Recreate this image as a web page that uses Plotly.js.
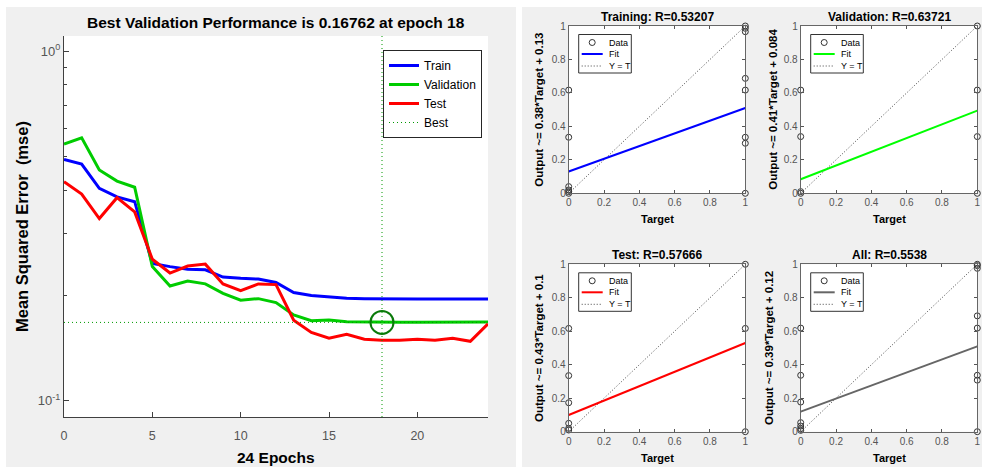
<!DOCTYPE html>
<html><head><meta charset="utf-8">
<script src="https://cdn.plot.ly/plotly-3.0.1.min.js"></script>
<style>html,body{margin:0;padding:0;background:#fff;}#chart{width:982px;height:467px;}</style>
</head><body><div id="chart"></div>
<script>
// ---------- data ----------
const epochs = [0,1,2,3,4,5,6,7,8,9,10,11,12,13,14,15,16,17,18,19,20,21,22,23,24];
const trainPerf = [0.490,0.475,0.405,0.383,0.371,0.247,0.242,0.238,0.237,0.226,0.224,0.223,0.218,0.204,0.200,0.198,0.1965,0.196,0.1956,0.1956,0.1956,0.1956,0.1956,0.1956,0.1956];
const valPerf   = [0.542,0.565,0.457,0.425,0.408,0.242,0.213,0.220,0.216,0.203,0.194,0.196,0.191,0.176,0.1696,0.1704,0.1685,0.1681,0.16762,0.1678,0.1679,0.1680,0.1682,0.1680,0.1681];
const testPerf  = [0.423,0.390,0.332,0.381,0.347,0.254,0.232,0.243,0.246,0.216,0.2065,0.216,0.215,0.170,0.157,0.151,0.155,0.150,0.149,0.149,0.150,0.149,0.151,0.148,0.166];
const bestEpoch = 18;
const bestPerf = 0.16762;
const perfTickVals = [0.1, 1];
const perfTickText = ['10<sup>-1</sup>', '10<sup>0</sup>'];
const perfMinorVals = [0.2,0.3,0.4,0.5,0.6,0.7,0.8,0.9];
const epochTicks = [0,5,10,15,20];

const regNames = ['Training', 'Validation', 'Test', 'All'];
const regR = ['0.53207', '0.63721', '0.57666', '0.5538'];
const regSlope = [0.38, 0.41, 0.43, 0.39];
const regIntercept = [0.13, 0.084, 0.1, 0.12];
const regSlopeText = ['0.38', '0.41', '0.43', '0.39'];
const regInterceptText = ['0.13', '0.084', '0.1', '0.12'];
const trainTarget = [0,0,0,0,0,0, 1,1,1,1,1,1,1,1];
const trainOutput = [0.617,0.335,0.04,0.02,0.01,0, 1,0.986,0.966,0.687,0.617,0.335,0.299,0];
const valTarget = [0,0,0,0, 1,1,1,1];
const valOutput = [0.617,0.339,0.01,0, 1,0.617,0.339,0];
const testTarget = [0,0,0,0,0,0, 1,1,1];
const testOutput = [0.617,0.335,0.173,0.05,0.02,0.01, 1,0.617,0];
const allTarget = [0,0,0,0,0,0,0, 1,1,1,1,1,1,1,1];
const allOutput = [0.619,0.337,0.177,0.054,0.034,0.018,0.008, 1,0.992,0.976,0.692,0.619,0.337,0.308,0];
const fitX = [0, 1];
const regTicks = [0,0.2,0.4,0.6,0.8,1];
const regTickText = ['0','0.2','0.4','0.6','0.8','1'];

// ---------- styling / geometry ----------
const W = 982, H = 467;
const FONT = 'Liberation Sans, Arial, Helvetica, sans-serif';
const fx = p => p / W;
const fy = p => 1 - p / H;
const TICKC = '#555555';
const AXC = '#404040';

const mainBox = {L:64, R:488, T:36, B:417};
const regBoxes = [
  {L:568.7, R:745.3, T:26, B:193.3, ytx:539},
  {L:800.7, R:977.3, T:26, B:193.3, ytx:773},
  {L:568.7, R:745.3, T:264.3, B:431.7, ytx:539},
  {L:800.7, R:977.3, T:264.3, B:431.7, ytx:769}
];
const regColors = ['#0000ff', '#00ff00', '#ff0000', '#666666'];
const regData = [[trainTarget, trainOutput],[valTarget, valOutput],[testTarget, testOutput],[allTarget, allOutput]];

const traces = [];
const shapes = [];
const annotations = [];

function ann(text, x, y, size, extra) {
  return Object.assign({text:text, x:fx(x), y:fy(y), xref:'paper', yref:'paper', showarrow:false,
    xanchor:'center', yanchor:'middle', font:{family:FONT, size:size, color:'#000'}}, extra || {});
}

// gray panels + white plot areas
shapes.push({type:'rect', xref:'paper', yref:'paper', x0:fx(6), x1:fx(516), y0:fy(467), y1:fy(7), fillcolor:'#f0f0f0', line:{width:0}, layer:'below'});
shapes.push({type:'rect', xref:'paper', yref:'paper', x0:fx(522), x1:fx(982), y0:fy(467), y1:fy(7), fillcolor:'#f0f0f0', line:{width:0}, layer:'below'});
[mainBox].concat(regBoxes).forEach(b => {
  shapes.push({type:'rect', xref:'paper', yref:'paper', x0:fx(b.L), x1:fx(b.R), y0:fy(b.B), y1:fy(b.T), fillcolor:'#ffffff', line:{width:0}, layer:'below'});
});

// ---------- performance plot ----------
traces.push({type:'scatter', mode:'lines', name:'Train', x:epochs, y:trainPerf, xaxis:'x', yaxis:'y', line:{color:'#0000ff', width:3}});
traces.push({type:'scatter', mode:'lines', name:'Validation', x:epochs, y:valPerf, xaxis:'x', yaxis:'y', line:{color:'#00cc00', width:3}});
traces.push({type:'scatter', mode:'lines', name:'Test', x:epochs, y:testPerf, xaxis:'x', yaxis:'y', line:{color:'#ff0000', width:3}});
traces.push({type:'scatter', mode:'lines', name:'Best', x:[epochs[0], epochs[epochs.length-1]], y:[bestPerf, bestPerf], xaxis:'x', yaxis:'y', line:{color:'#009900', width:1, dash:'1px,3px'}});
traces.push({type:'scatter', mode:'markers', name:'best point', showlegend:false, x:[bestEpoch], y:[bestPerf], xaxis:'x', yaxis:'y', cliponaxis:false,
  marker:{symbol:'circle-open', size:23, color:'#0a7a0a', line:{width:2, color:'#0a7a0a'}}});
shapes.push({type:'line', xref:'x', yref:'y domain', x0:bestEpoch, x1:bestEpoch, y0:0, y1:1, line:{color:'#009900', width:1, dash:'1px,3px'}, layer:'above'});

annotations.push(ann('<b>Best Validation Performance is ' + bestPerf + ' at epoch ' + bestEpoch + '</b>', 276, 22, 15.5));
annotations.push(ann('<b>Mean Squared Error\u00a0 (mse)</b>', 21.5, 226.5, 16.5, {textangle:-90}));
annotations.push(ann('<b>' + (epochs.length - 1) + ' Epochs</b>', 276, 457, 15.5));

const layout = {
  width:W, height:H, margin:{l:0,r:0,t:0,b:0},
  paper_bgcolor:'#ffffff', plot_bgcolor:'rgba(0,0,0,0)',
  font:{family:FONT, color:'#000'},
  showlegend:true,
  legend:{x:fx(383), y:fy(50), xanchor:'left', yanchor:'top', bgcolor:'#ffffff', bordercolor:'#262626', borderwidth:1,
    font:{family:FONT, size:12, color:'#000'}, tracegroupgap:0, itemwidth:30},
  xaxis:{domain:[fx(mainBox.L), fx(mainBox.R)], anchor:'y', range:[0,24], tickvals:epochTicks, ticks:'inside', ticklen:5,
    tickcolor:AXC, showline:true, linecolor:AXC, linewidth:1, showgrid:false, zeroline:false, ticklabelstandoff:7,
    tickfont:{family:FONT, size:12.5, color:TICKC}, fixedrange:true},
  yaxis:{domain:[fy(mainBox.B), fy(mainBox.T)], anchor:'x', type:'log', range:[-1.046, 0.043], tickvals:perfTickVals, ticktext:perfTickText,
    ticks:'inside', ticklen:5, tickcolor:AXC, showline:true, linecolor:AXC, linewidth:1, showgrid:false, zeroline:false,
    minor:{tickmode:'array', tickvals:perfMinorVals, ticks:'inside', ticklen:3, tickcolor:AXC, showgrid:false},
    tickfont:{family:FONT, size:13, color:TICKC}, fixedrange:true},
  shapes:shapes, annotations:annotations
};

// ---------- regression plots ----------
regBoxes.forEach((b, i) => {
  const n = i + 2;
  const xa = 'x' + n, ya = 'y' + n;
  const axCommon = {range:[0,1], tickvals:regTicks, ticktext:regTickText, ticks:'inside', ticklen:3, tickcolor:'#555',
    showline:true, linecolor:'#666', linewidth:1, mirror:'ticks', showgrid:false, zeroline:false,
    tickfont:{family:FONT, size:10, color:TICKC}, fixedrange:true};
  layout['xaxis' + n] = Object.assign({domain:[fx(b.L), fx(b.R)], anchor:ya}, axCommon);
  layout['yaxis' + n] = Object.assign({domain:[fy(b.B), fy(b.T)], anchor:xa}, axCommon);

  traces.push({type:'scatter', mode:'lines', x:fitX, y:fitX, xaxis:xa, yaxis:ya, showlegend:false, name:'Y = T',
    line:{color:'#444', width:1, dash:'1px,2px'}});
  traces.push({type:'scatter', mode:'lines', x:fitX, y:fitX.map(t => regSlope[i]*t + regIntercept[i]), xaxis:xa, yaxis:ya, showlegend:false, name:'Fit',
    line:{color:regColors[i], width:2}});
  traces.push({type:'scatter', mode:'markers', x:regData[i][0], y:regData[i][1], xaxis:xa, yaxis:ya, showlegend:false, name:'Data', cliponaxis:false,
    marker:{symbol:'circle-open', size:6, color:'#333', line:{width:1, color:'#333'}}});

  const cx = (b.L + b.R) / 2, cy = (b.T + b.B) / 2;
  annotations.push(ann('<b>' + regNames[i] + ': R=' + regR[i] + '</b>', cx, b.T - 9, 12));
  annotations.push(ann('<b>Output ~= ' + regSlopeText[i] + '*Target + ' + regInterceptText[i] + '</b>', b.ytx, cy, 11.5, {textangle:-90}));
  annotations.push(ann('<b>Target</b>', cx, b.B + 26, 11));

  // legend box (drawn as chart furniture)
  const bx0 = b.L + 10, bx1 = b.L + 62.6, by0 = b.T + 8.5, by1 = b.T + 47;
  const rows = [by0 + 8, by0 + 19.5, by0 + 31.5];
  const lx0 = bx0 + 3, lx1 = bx0 + 24, ccx = bx0 + 13.5, tx = bx0 + 28;
  shapes.push({type:'rect', xref:'paper', yref:'paper', x0:fx(bx0), x1:fx(bx1), y0:fy(by1), y1:fy(by0), fillcolor:'#ffffff', line:{color:'#333', width:1}, layer:'above'});
  shapes.push({type:'circle', xref:'paper', yref:'paper', x0:fx(ccx-3), x1:fx(ccx+3), y0:fy(rows[0]+3), y1:fy(rows[0]-3), line:{color:'#333', width:1}, layer:'above'});
  shapes.push({type:'line', xref:'paper', yref:'paper', x0:fx(lx0), x1:fx(lx1), y0:fy(rows[1]), y1:fy(rows[1]), line:{color:regColors[i], width:2}, layer:'above'});
  shapes.push({type:'line', xref:'paper', yref:'paper', x0:fx(lx0), x1:fx(lx1), y0:fy(rows[2]), y1:fy(rows[2]), line:{color:'#444', width:1, dash:'1px,2px'}, layer:'above'});
  ['Data','Fit','Y = T'].forEach((t, k) => {
    annotations.push(ann(t, tx, rows[k], 9, {xanchor:'left'}));
  });
});

Plotly.newPlot('chart', traces, layout, {displayModeBar:false, staticPlot:true});
</script>
</body></html>
